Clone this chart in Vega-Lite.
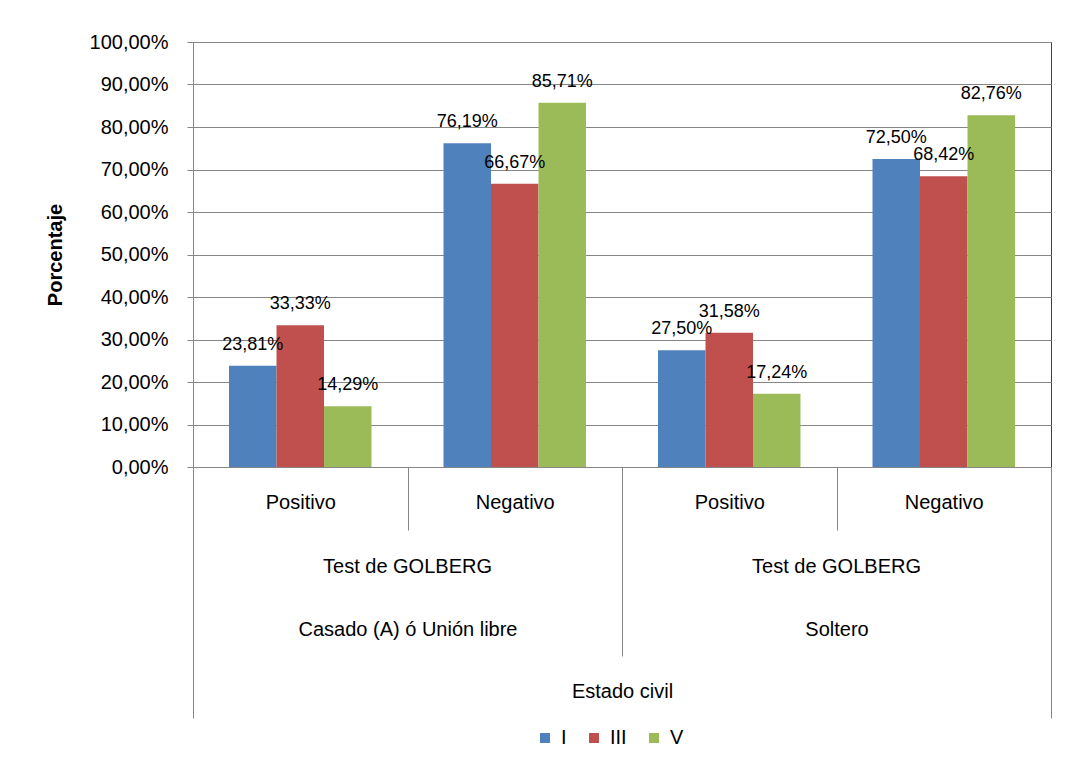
{
  "$schema": "https://vega.github.io/schema/vega-lite/v6.json",
  "width": 858,
  "height": 425,
  "autosize": {"type": "none"},
  "padding": {"left": 193, "top": 42, "right": 16, "bottom": 311},
  "background": "#ffffff",
  "config": {
    "locale": {"number": {"decimal": ",", "thousands": ".", "grouping": [3], "currency": ["", " €"]}},
    "font": "Liberation Sans",
    "view": {"stroke": "#404040", "strokeWidth": 1},
    "axis": {
      "labelFont": "Liberation Sans",
      "labelColor": "#000000",
      "titleFont": "Liberation Sans",
      "titleColor": "#000000",
      "domainColor": "#868686",
      "tickColor": "#868686",
      "gridColor": "#868686"
    }
  },
  "data": {
    "values": [
      {"variable": "Estado civil", "estado": "Casado (A) ó Unión libre", "grupo": "Casado (A) ó Unión libre|Positivo", "serie": "I", "valor": 0.2381},
      {"variable": "Estado civil", "estado": "Casado (A) ó Unión libre", "grupo": "Casado (A) ó Unión libre|Positivo", "serie": "III", "valor": 0.3333},
      {"variable": "Estado civil", "estado": "Casado (A) ó Unión libre", "grupo": "Casado (A) ó Unión libre|Positivo", "serie": "V", "valor": 0.1429},
      {"variable": "Estado civil", "estado": "Casado (A) ó Unión libre", "grupo": "Casado (A) ó Unión libre|Negativo", "serie": "I", "valor": 0.7619},
      {"variable": "Estado civil", "estado": "Casado (A) ó Unión libre", "grupo": "Casado (A) ó Unión libre|Negativo", "serie": "III", "valor": 0.6667},
      {"variable": "Estado civil", "estado": "Casado (A) ó Unión libre", "grupo": "Casado (A) ó Unión libre|Negativo", "serie": "V", "valor": 0.8571},
      {"variable": "Estado civil", "estado": "Soltero", "grupo": "Soltero|Positivo", "serie": "I", "valor": 0.2750},
      {"variable": "Estado civil", "estado": "Soltero", "grupo": "Soltero|Positivo", "serie": "III", "valor": 0.3158},
      {"variable": "Estado civil", "estado": "Soltero", "grupo": "Soltero|Positivo", "serie": "V", "valor": 0.1724},
      {"variable": "Estado civil", "estado": "Soltero", "grupo": "Soltero|Negativo", "serie": "I", "valor": 0.7250},
      {"variable": "Estado civil", "estado": "Soltero", "grupo": "Soltero|Negativo", "serie": "III", "valor": 0.6842},
      {"variable": "Estado civil", "estado": "Soltero", "grupo": "Soltero|Negativo", "serie": "V", "valor": 0.8276}
    ]
  },
  "layer": [
    {
      "mark": {"type": "rect", "opacity": 0},
      "encoding": {
        "x": {
          "field": "variable",
          "type": "nominal",
          "scale": {"paddingInner": 0, "paddingOuter": 0},
          "axis": {
            "orient": "bottom",
            "title": null,
            "domain": false,
            "grid": false,
            "tickBand": "extent",
            "tickSize": 251,
            "labelAngle": 0,
            "labelFontSize": 20,
            "labelBaseline": "top",
            "labelPadding": -37,
            "labelLimit": 500
          }
        }
      }
    },
    {
      "mark": {"type": "rect", "opacity": 0},
      "encoding": {
        "x": {
          "field": "estado",
          "type": "nominal",
          "sort": null,
          "scale": {"paddingInner": 0, "paddingOuter": 0},
          "axis": {
            "orient": "bottom",
            "title": null,
            "domain": false,
            "grid": false,
            "tickBand": "extent",
            "tickSize": 189,
            "labelAngle": 0,
            "labelFontSize": 20,
            "labelBaseline": "top",
            "labelPadding": -37,
            "labelLimit": 500
          }
        }
      }
    },
    {
      "mark": {"type": "rect", "opacity": 0},
      "encoding": {
        "x": {
          "field": "estado",
          "type": "nominal",
          "sort": null,
          "scale": {"paddingInner": 0, "paddingOuter": 0},
          "axis": {
            "orient": "bottom",
            "title": null,
            "domain": false,
            "grid": false,
            "ticks": false,
            "labelAngle": 0,
            "labelFontSize": 20,
            "labelBaseline": "top",
            "labelPadding": 89,
            "labelLimit": 500,
            "labelExpr": "'Test de GOLBERG'"
          }
        }
      }
    },
    {
      "encoding": {
        "x": {
          "field": "grupo",
          "type": "nominal",
          "sort": null,
          "scale": {"paddingInner": 0, "paddingOuter": 0},
          "axis": {
            "orient": "bottom",
            "title": null,
            "grid": false,
            "tickBand": "extent",
            "tickSize": 63,
            "labelAngle": 0,
            "labelFontSize": 20,
            "labelBaseline": "top",
            "labelPadding": -38,
            "labelLimit": 500,
            "labelExpr": "split(datum.value, '|')[1]"
          }
        },
        "xOffset": {
          "field": "serie",
          "type": "nominal",
          "sort": null,
          "scale": {"paddingInner": 0, "paddingOuter": 0.758}
        },
        "y": {
          "field": "valor",
          "type": "quantitative",
          "scale": {"domain": [0, 1], "nice": false},
          "axis": {
            "values": [0, 0.1, 0.2, 0.3, 0.4, 0.5, 0.6, 0.7, 0.8, 0.9, 1],
            "format": ".2%",
            "title": "Porcentaje",
            "titleFontSize": 20,
            "titleFontWeight": "bold",
            "titlePadding": 24,
            "labelFontSize": 20,
            "labelPadding": 19,
            "tickSize": 6,
            "grid": true
          }
        }
      },
      "layer": [
        {
          "mark": {"type": "bar"},
          "encoding": {
            "color": {
              "field": "serie",
              "type": "nominal",
              "sort": null,
              "scale": {"domain": ["I", "III", "V"], "range": ["#4F81BD", "#C0504D", "#9BBB59"]},
              "legend": {
                "title": null,
                "orient": "none",
                "legendX": 342,
                "legendY": 686,
                "direction": "horizontal",
                "symbolType": "square",
                "symbolSize": 100,
                "symbolStrokeWidth": 0,
                "labelFont": "Liberation Sans",
                "labelFontSize": 20,
                "labelColor": "#000000",
                "labelOffset": 6,
                "columnPadding": 17
              }
            }
          }
        },
        {
          "mark": {"type": "text", "baseline": "alphabetic", "dy": -16, "fontSize": 18, "font": "Liberation Sans", "color": "#000000"},
          "encoding": {
            "text": {"field": "valor", "type": "quantitative", "format": ".2%"}
          }
        }
      ]
    }
  ],
  "resolve": {"scale": {"x": "independent"}, "axis": {"x": "independent"}}
}
